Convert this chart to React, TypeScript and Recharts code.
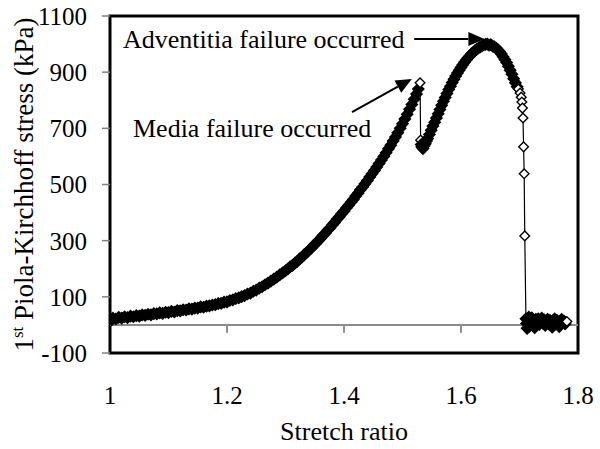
import React from 'react';
import {
  ComposedChart,
  Line,
  XAxis,
  YAxis,
  ReferenceLine,
  ReferenceArea,
  ReferenceDot,
  Label,
} from 'recharts';

const FONT = '"Liberation Serif", "Times New Roman", serif';

// stretch ratio, 1st PK stress (kPa)
const toeRegion: [number, number][] = [
  [1.0, 22], [1.003, 18], [1.005, 24], [1.01, 21], [1.015, 27], [1.02, 24], [1.025, 29],
  [1.03, 26], [1.035, 31], [1.04, 29], [1.045, 33], [1.05, 31], [1.055, 36], [1.06, 34],
  [1.065, 38], [1.07, 36], [1.075, 40], [1.08, 39], [1.085, 43], [1.09, 41], [1.095, 45],
  [1.1, 44], [1.105, 48], [1.11, 46], [1.115, 51], [1.12, 50], [1.125, 54], [1.13, 53],
  [1.135, 57], [1.14, 56], [1.145, 60], [1.15, 60], [1.155, 64], [1.16, 63], [1.165, 67],
  [1.17, 68], [1.175, 71], [1.18, 72], [1.185, 76], [1.19, 77], [1.195, 81], [1.2, 82],
  [1.205, 87], [1.21, 89], [1.215, 94], [1.22, 96], [1.225, 101], [1.23, 104], [1.235, 110],
  [1.24, 113], [1.245, 120], [1.25, 124], [1.255, 131], [1.26, 136], [1.265, 143],
  [1.27, 149], [1.275, 156], [1.28, 163], [1.285, 170], [1.29, 178], [1.295, 185], [1.3, 193],
];

const mediaLoading: [number, number][] = [
  [1.304, 199], [1.308, 207], [1.312, 212], [1.316, 220], [1.32, 226], [1.324, 235],
  [1.328, 241], [1.332, 250], [1.336, 257], [1.34, 266], [1.344, 273], [1.348, 283],
  [1.352, 290], [1.356, 300], [1.36, 308], [1.364, 318], [1.368, 326], [1.372, 337],
  [1.376, 345], [1.38, 356], [1.384, 365], [1.388, 376], [1.392, 385], [1.396, 396],
  [1.4, 405], [1.404, 416], [1.408, 426], [1.412, 437], [1.416, 447], [1.42, 459],
  [1.424, 469], [1.428, 481], [1.432, 491], [1.436, 503], [1.44, 514], [1.444, 527],
  [1.448, 538], [1.452, 550], [1.456, 562], [1.46, 575], [1.464, 587], [1.468, 600],
  [1.472, 613], [1.476, 627], [1.48, 640], [1.484, 655], [1.488, 669], [1.492, 684],
  [1.496, 700], [1.5, 716], [1.504, 733], [1.508, 750], [1.512, 768], [1.516, 785],
  [1.52, 804], [1.524, 822], [1.527, 840], [1.53, 862],
];

const adventitiaLoading: [number, number][] = [
  [1.531, 658], [1.532, 642], [1.533, 634], [1.535, 628], [1.537, 638], [1.539, 645],
  [1.541, 655], [1.543, 664], [1.546, 678], [1.549, 693], [1.552, 708], [1.555, 722],
  [1.558, 737], [1.561, 752], [1.564, 767], [1.567, 782], [1.57, 796], [1.573, 810],
  [1.576, 824], [1.579, 838], [1.582, 850], [1.585, 863], [1.588, 875], [1.591, 886],
  [1.594, 897], [1.597, 907], [1.6, 917], [1.603, 926], [1.606, 935], [1.609, 943],
  [1.612, 951], [1.615, 958], [1.618, 965], [1.621, 971], [1.624, 977], [1.627, 982],
  [1.63, 986], [1.633, 990], [1.636, 994], [1.639, 997], [1.642, 999], [1.645, 1000],
  [1.648, 996], [1.651, 998], [1.654, 993], [1.657, 990], [1.66, 986], [1.663, 980],
  [1.666, 973], [1.669, 965], [1.672, 955], [1.675, 945], [1.678, 934], [1.681, 921],
  [1.684, 907], [1.687, 893], [1.69, 877], [1.693, 862], [1.696, 848],
];

// sparse points as the adventitia gives way
const adventitiaRupture: [number, number][] = [
  [1.698, 840], [1.701, 826], [1.703, 811], [1.704, 794], [1.705, 772], [1.706, 737],
  [1.707, 634], [1.708, 538], [1.709, 317],
];

const postRupture: [number, number][] = [
  [1.711, 22], [1.712, 5], [1.713, -12], [1.714, 18], [1.716, 28], [1.717, -5], [1.719, 10],
  [1.721, 25], [1.722, 0], [1.724, 15], [1.726, -10], [1.728, 20], [1.73, 8], [1.732, 22],
  [1.734, 2], [1.736, 14], [1.738, 24], [1.74, 6], [1.742, 18], [1.744, -2], [1.746, 12],
  [1.748, 20], [1.75, 4], [1.752, 16], [1.754, 8], [1.756, -8], [1.758, 14], [1.76, 22],
  [1.762, 6], [1.764, 16], [1.766, 10], [1.768, -6], [1.77, 12], [1.772, 20], [1.774, 8],
  [1.776, 14], [1.778, 4], [1.781, 12],
];

const X_TICKS = [1, 1.2, 1.4, 1.6, 1.8];
const Y_TICKS = [-100, 100, 300, 500, 700, 900, 1100];

const segments = [toeRegion, mediaLoading, adventitiaLoading, adventitiaRupture, postRupture];
const data = segments.flat().map(([stretch, stress]) => ({ stretch, stress }));

// Markers are so tightly packed in the original that the band reads as solid black;
// only the sparse rupture points and the last marker of a run show their white face.
const openMarkers = new Set<number>();
{
  let i = 0;
  segments.forEach((seg) => {
    if (seg === adventitiaRupture) seg.forEach((_, k) => openMarkers.add(i + k));
    if (seg === adventitiaLoading) openMarkers.add(i);
    if (seg === mediaLoading || seg === postRupture) openMarkers.add(i + seg.length - 1);
    i += seg.length;
  });
}

// text anchor (data coords) + arrow from -> to
const annotations = [
  { text: 'Adventitia failure occurred', tx: 1.0222, ty: 986, from: [1.52, 1018], to: [1.64, 1018] },
  { text: 'Media failure occurred', tx: 1.0393, ty: 669, from: [1.4137, 758], to: [1.516, 876] },
];

function Diamond(props: any) {
  const { cx, cy, index } = props;
  if (cx == null || cy == null) return null;
  const open = openMarkers.has(index);
  const s = open ? 4.8 : 5.6;
  return (
    <path
      key={index}
      d={`M${cx},${cy - s}L${cx + s},${cy}L${cx},${cy + s}L${cx - s},${cy}Z`}
      fill={open ? '#fff' : '#000'}
      stroke="#000"
      strokeWidth={1.4}
    />
  );
}

function Arrow(props: any) {
  const { x1, y1, x2, y2 } = props;
  const a = Math.atan2(y2 - y1, x2 - x1);
  const len = 16;
  const hw = 7;
  const bx = x2 - len * Math.cos(a);
  const by = y2 - len * Math.sin(a);
  const px = -Math.sin(a) * hw;
  const py = Math.cos(a) * hw;
  return (
    <g>
      <line x1={x1} y1={y1} x2={bx} y2={by} stroke="#000" strokeWidth={2} />
      <polygon points={`${x2},${y2} ${bx + px},${by + py} ${bx - px},${by - py}`} fill="#000" />
    </g>
  );
}

function YTitle({ viewBox }: any) {
  if (!viewBox) return null;
  const x = 33;
  const y = viewBox.y + viewBox.height / 2;
  return (
    <text
      x={x}
      y={y}
      transform={`rotate(-90, ${x}, ${y})`}
      textAnchor="middle"
      fontFamily={FONT}
      fontSize={27}
      fill="#000"
    >
      <tspan>1</tspan>
      <tspan fontSize={17} dy={-10}>st</tspan>
      <tspan dy={10}> Piola-Kirchhoff stress (kPa)</tspan>
    </text>
  );
}

function XTitle({ viewBox }: any) {
  if (!viewBox) return null;
  return (
    <text
      x={viewBox.x + viewBox.width / 2}
      y={viewBox.y + 87}
      textAnchor="middle"
      fontFamily={FONT}
      fontSize={26}
      fill="#000"
    >
      Stretch ratio
    </text>
  );
}

export default function App() {
  return (
    <div style={{ width: 600, height: 449, background: '#fff' }}>
      <style>{'body{margin:0}'}</style>
      <ComposedChart
        width={600}
        height={449}
        data={data}
        margin={{ top: 16, right: 22, bottom: 0, left: 0 }}
      >
        <XAxis
          type="number"
          dataKey="stretch"
          domain={[1, 1.8]}
          ticks={X_TICKS}
          allowDataOverflow
          axisLine={false}
          tickLine={false}
          tickSize={0}
          tickMargin={33}
          height={96}
          tick={{ fontSize: 25, fill: '#000', fontFamily: FONT }}
        >
          <Label content={<XTitle />} />
        </XAxis>
        <YAxis
          type="number"
          domain={[-100, 1100]}
          ticks={Y_TICKS}
          allowDataOverflow
          axisLine={false}
          tickLine={{ stroke: '#808080', strokeWidth: 1.5 }}
          tickSize={8}
          tickMargin={15}
          width={110}
          tick={{ fontSize: 25, fill: '#000', fontFamily: FONT }}
        >
          <Label content={<YTitle />} />
        </YAxis>

        <ReferenceLine y={0} stroke="#8c8c8c" strokeWidth={2} />
        {X_TICKS.slice(1, -1).map((t) => (
          <ReferenceLine
            key={t}
            segment={[{ x: t, y: 0 }, { x: t, y: -28 }]}
            stroke="#8c8c8c"
            strokeWidth={2}
          />
        ))}

        <Line
          type="linear"
          dataKey="stress"
          stroke="#000"
          strokeWidth={1.2}
          dot={Diamond}
          activeDot={false}
          isAnimationActive={false}
        />

        <ReferenceArea
          x1={1}
          x2={1.8}
          y1={-100}
          y2={1100}
          fill="none"
          stroke="#000"
          strokeWidth={3}
        />

        {annotations.map((a) => (
          <ReferenceLine
            key={a.text + '-arrow'}
            segment={[{ x: a.from[0], y: a.from[1] }, { x: a.to[0], y: a.to[1] }]}
            shape={Arrow}
          />
        ))}
        {annotations.map((a) => (
          <ReferenceDot
            key={a.text}
            x={a.tx}
            y={a.ty}
            r={0}
            shape={(p: any) => (
              <text x={p.cx} y={p.cy} fontFamily={FONT} fontSize={26} fill="#000">
                {a.text}
              </text>
            )}
          />
        ))}
      </ComposedChart>
    </div>
  );
}
